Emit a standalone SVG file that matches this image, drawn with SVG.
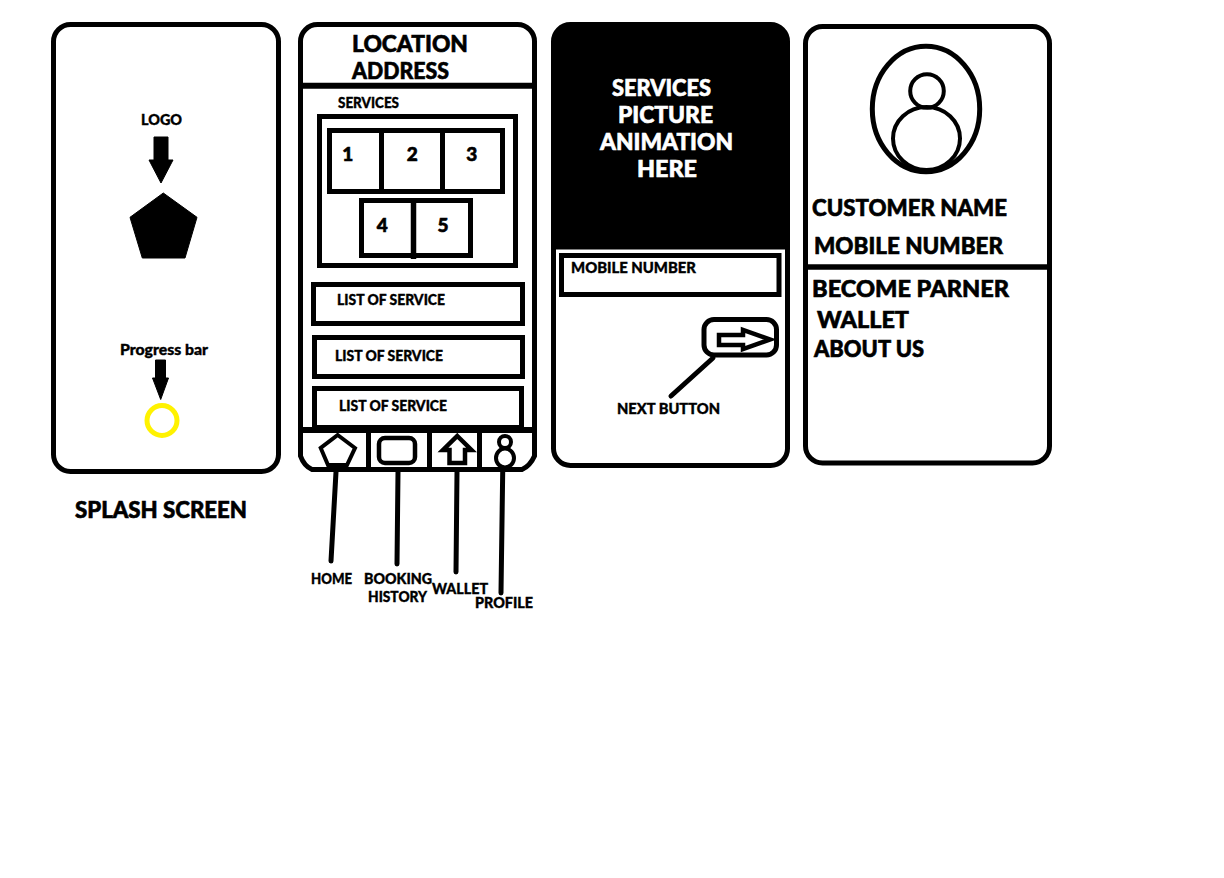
<svg xmlns="http://www.w3.org/2000/svg" width="1224" height="878" viewBox="0 0 1224 878">
<style>
.o{fill:none;stroke:#000;stroke-width:5}
.f{fill:#000;stroke:#000;stroke-width:1;stroke-linejoin:round}
.t{font-family:Lato,"Liberation Sans",sans-serif;font-weight:900;fill:#000;stroke:#000;stroke-width:.6}
.l{font-size:23px}.m{font-size:14.500px;stroke-width:.35}.s{font-size:19px}
.v{fill:#fff;stroke:#fff}
.c{stroke:#000;stroke-width:5;fill:none;stroke-linecap:round}
</style>
<rect width="1224" height="878" fill="#fff"/>
<g id="splash">
<rect class="o" x="53.500" y="24.500" width="225" height="447" rx="17"/>
<text class="t m" x="141" y="124.500" textLength="41" lengthAdjust="spacingAndGlyphs">LOGO</text>
<polygon class="f" points="154,137 168,137 168,160 173,160 161,183 149,160 154,160"/>
<polygon class="f" points="163.300,193 197,217.300 185,258 142.300,258 130,217.300"/>
<text class="t m" x="120" y="354.500" textLength="88" lengthAdjust="spacingAndGlyphs">Progress bar</text>
<polygon class="f" points="155.500,360 165.500,360 165.500,378 168.500,378 160.700,399.500 152.500,378 155.500,378"/>
<circle cx="162" cy="420.500" r="15" fill="none" stroke="#fff200" stroke-width="5"/>
<text class="t l" x="75" y="517.500" textLength="172" lengthAdjust="spacingAndGlyphs">SPLASH SCREEN</text>
</g>
<g id="home">
<path class="o" d="M300.500 456V42a17 17 0 0 1 17-17.500H517a17 17 0 0 1 17.500 17.500V456Q530 466 522 469.500H312Q304 466 300.500 456Z"/>
<line class="o" x1="300" y1="85.700" x2="535" y2="85.700" style="stroke-width:6"/>
<text class="t l" x="352" y="51.500" textLength="116" lengthAdjust="spacingAndGlyphs">LOCATION</text>
<text class="t l" x="352" y="78.500" textLength="97" lengthAdjust="spacingAndGlyphs">ADDRESS</text>
<text class="t m" x="338" y="108" textLength="61" lengthAdjust="spacingAndGlyphs">SERVICES</text>
<rect class="o" x="319.500" y="116.500" width="196" height="149"/>
<rect class="o" x="329.500" y="130.500" width="173" height="61"/>
<path class="o" d="M381.500 130V192M442.500 130V192"/>
<rect class="o" x="361.500" y="200.500" width="109" height="55"/>
<path class="o" d="M413.500 200V259" style="stroke-width:5.500"/>
<text class="t s" x="347.700" y="161" text-anchor="middle">1</text>
<text class="t s" x="412.300" y="161" text-anchor="middle">2</text>
<text class="t s" x="471.700" y="161" text-anchor="middle">3</text>
<text class="t s" x="382.300" y="232" text-anchor="middle">4</text>
<text class="t s" x="443" y="232" text-anchor="middle">5</text>
<rect class="o" x="313.500" y="284.500" width="209" height="39"/>
<rect class="o" x="314.500" y="337.500" width="208" height="39"/>
<rect class="o" x="314.500" y="388.500" width="207" height="39"/>
<text class="t m" x="337" y="304.500" textLength="108" lengthAdjust="spacingAndGlyphs">LIST OF SERVICE</text>
<text class="t m" x="335" y="360.500" textLength="108" lengthAdjust="spacingAndGlyphs">LIST OF SERVICE</text>
<text class="t m" x="339" y="410.500" textLength="108" lengthAdjust="spacingAndGlyphs">LIST OF SERVICE</text>
<line x1="300" y1="430" x2="535" y2="430" stroke="#000" stroke-width="6"/>
<path class="o" d="M368.500 431V470M429.500 431V470M479.500 431V470"/>
<polygon points="337.700,435 355,448 347,465 328,465 320.700,448" fill="none" stroke="#000" stroke-width="4"/>
<rect x="379" y="438" width="36" height="25" rx="6" fill="none" stroke="#000" stroke-width="4.500"/>
<polygon points="457.300,436 471.500,450 465,450 465,463 449.500,463 449.500,450 443,450" fill="none" stroke="#000" stroke-width="4.500"/>
<ellipse cx="505" cy="442" rx="6" ry="6" fill="none" stroke="#000" stroke-width="4"/>
<ellipse cx="505" cy="458" rx="9" ry="9.500" fill="none" stroke="#000" stroke-width="4"/>
</g>
<g id="login">
<path d="M553.500 247V42a17 17 0 0 1 17-17.500H770a17 17 0 0 1 17.500 17.500V247Z" fill="#000" stroke="#000" stroke-width="5"/>
<path class="o" d="M553.500 247V448a17 17 0 0 0 17 17.500H770a17 17 0 0 0 17.500-17.500V247"/>
<text class="t l v" x="612" y="95.500" textLength="99" lengthAdjust="spacingAndGlyphs">SERVICES</text>
<text class="t l v" x="618" y="122.500" textLength="95" lengthAdjust="spacingAndGlyphs">PICTURE</text>
<text class="t l v" x="600" y="149.500" textLength="133" lengthAdjust="spacingAndGlyphs">ANIMATION</text>
<text class="t l v" x="637" y="176.500" textLength="60" lengthAdjust="spacingAndGlyphs">HERE</text>
<rect class="o" x="561.500" y="255.500" width="217.500" height="39"/>
<text class="t m" x="571" y="272.500" textLength="125" lengthAdjust="spacingAndGlyphs">MOBILE NUMBER</text>
<rect class="o" x="704" y="319.500" width="72.500" height="35.500" rx="10"/>
<polygon points="719,335 743,335 743,330 770,339.500 743,349 743,345 719,345" fill="none" stroke="#000" stroke-width="4.500"/>
<text class="t m" x="617" y="413.500" textLength="103" lengthAdjust="spacingAndGlyphs">NEXT BUTTON</text>
</g>
<g id="profile">
<rect class="o" x="805.500" y="26.500" width="244" height="436.500" rx="17"/>
<ellipse class="o" cx="926" cy="109" rx="53.700" ry="62.700"/>
<circle cx="927" cy="91" r="16.800" fill="none" stroke="#000" stroke-width="4"/>
<ellipse cx="926.500" cy="138.500" rx="33.500" ry="31.500" fill="none" stroke="#000" stroke-width="4"/>
<text class="t l" x="812" y="215.500" textLength="195" lengthAdjust="spacingAndGlyphs">CUSTOMER NAME</text>
<text class="t l" x="814" y="253.500" textLength="189" lengthAdjust="spacingAndGlyphs">MOBILE NUMBER</text>
<line class="o" x1="805" y1="267" x2="1050" y2="267" style="stroke-width:5.500"/>
<text class="t l" x="812" y="296.500" textLength="197" lengthAdjust="spacingAndGlyphs">BECOME PARNER</text>
<text class="t l" x="817" y="327.500" textLength="92" lengthAdjust="spacingAndGlyphs">WALLET</text>
<text class="t l" x="814" y="356.500" textLength="110" lengthAdjust="spacingAndGlyphs">ABOUT US</text>
</g>
<g id="connectors">
<line class="c" x1="336" y1="472" x2="331" y2="561"/>
<line class="c" x1="398" y1="472" x2="397" y2="564"/>
<line class="c" x1="457" y1="472" x2="456" y2="572"/>
<line class="c" x1="502.700" y1="472" x2="501" y2="593"/>
<line class="c" x1="713" y1="358" x2="671" y2="396"/>
</g>
<g id="nav-labels">
<text class="t m" x="311" y="584" textLength="41" lengthAdjust="spacingAndGlyphs">HOME</text>
<text class="t m" x="364" y="583.500" textLength="68" lengthAdjust="spacingAndGlyphs">BOOKING</text>
<text class="t m" x="368" y="601.500" textLength="59" lengthAdjust="spacingAndGlyphs">HISTORY</text>
<text class="t m" x="432" y="593.500" textLength="56" lengthAdjust="spacingAndGlyphs">WALLET</text>
<text class="t m" x="475" y="607.500" textLength="58" lengthAdjust="spacingAndGlyphs">PROFILE</text>
</g>
</svg>
